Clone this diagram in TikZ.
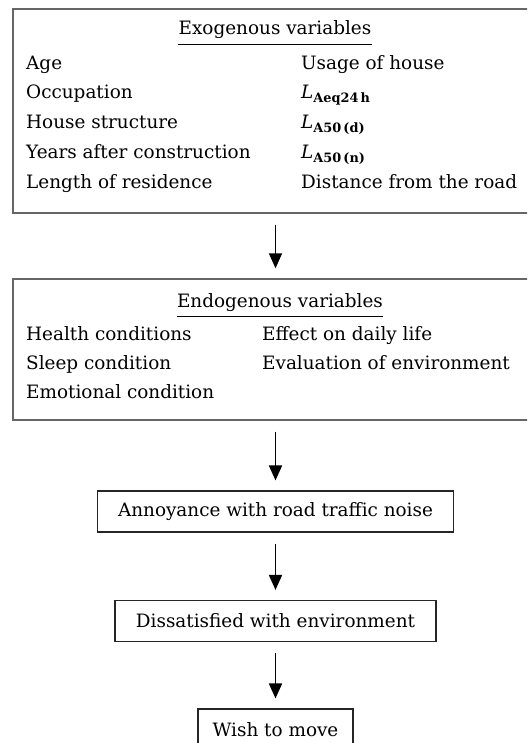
\documentclass[tikz,border=0pt]{standalone}
\usepackage{fontspec}
\usepackage{amsmath}
\setmainfont{DejaVu Serif}
\usetikzlibrary{arrows.meta}
\begin{document}
\begin{tikzpicture}[x=1pt,y=-1pt,
  bigbox/.style={draw=black!60,line width=1.4pt,minimum width=525pt,inner sep=0pt},
  smallbox/.style={draw=black!85,line width=1.1pt,minimum height=41pt,inner sep=0pt},
  txt/.style={anchor=base west,inner sep=0pt},
  ttl/.style={anchor=base,inner sep=0pt},
  arr/.style={line width=1.7pt,-{Triangle[width=13pt,length=15pt]},shorten <=11pt,shorten >=10pt},
  font=\fontsize{18.4}{22}\selectfont]
\clip (0,0) rectangle (527,743);
\fill[white] (0,0) rectangle (527,743);
% boxes
\node[bigbox,minimum height=204pt] (ex) at (275.5,111) {};
\node[bigbox,minimum height=141pt] (en) at (275.5,349.5) {};
\node[smallbox,minimum width=356pt] (ann) at (275.5,511.5) {Annoyance with road traffic noise};
\node[smallbox,minimum width=321pt] (dis) at (275.5,621) {Dissatisfied with environment};
\node[smallbox,minimum width=155pt,minimum height=42pt] (wish) at (275.5,730) {Wish to move};
% exogenous contents
\node[ttl] (t1) at (275,35) {Exogenous variables};
\draw[line width=0.9pt] ([yshift=-9pt]t1.base west) -- ([yshift=-9pt]t1.base east);
\node[txt] (a1) at (26,70) {Age};
\node[txt] (a2) at (26,99) {Occupation};
\node[txt] (a3) at (26,129) {House structure};
\node[txt] (a4) at (26,159) {Years after construction};
\node[txt] (a5) at (26,189) {Length of residence};
\node[txt] (b1) at (301,70) {Usage of house};
\node[txt] (b2) at (301,99) {$\textit{L}_{\textbf{Aeq24\,h}}$};
\node[txt] (b3) at (301,129) {$\textit{L}_{\textbf{A50\,(d)}}$};
\node[txt] (b4) at (301,159) {$\textit{L}_{\textbf{A50\,(n)}}$};
\node[txt] (b5) at (301,189) {Distance from the road};
% endogenous contents
\node[ttl] (t2) at (280,307) {Endogenous variables};
\draw[line width=0.9pt] ([yshift=-9pt]t2.base west) -- ([yshift=-9pt]t2.base east);
\node[txt] (c1) at (26,340) {Health conditions};
\node[txt] (c2) at (26,369) {Sleep condition};
\node[txt] (c3) at (26,398) {Emotional condition};
\node[txt] (d1) at (262,340) {Effect on daily life};
\node[txt] (d2) at (262,369) {Evaluation of environment};
% arrows
\draw[arr] (ex.south) -- (en.north);
\draw[arr] (en.south) -- (ann.north);
\draw[arr] (ann.south) -- (dis.north);
\draw[arr] (dis.south) -- (wish.north);
\end{tikzpicture}
\end{document}
